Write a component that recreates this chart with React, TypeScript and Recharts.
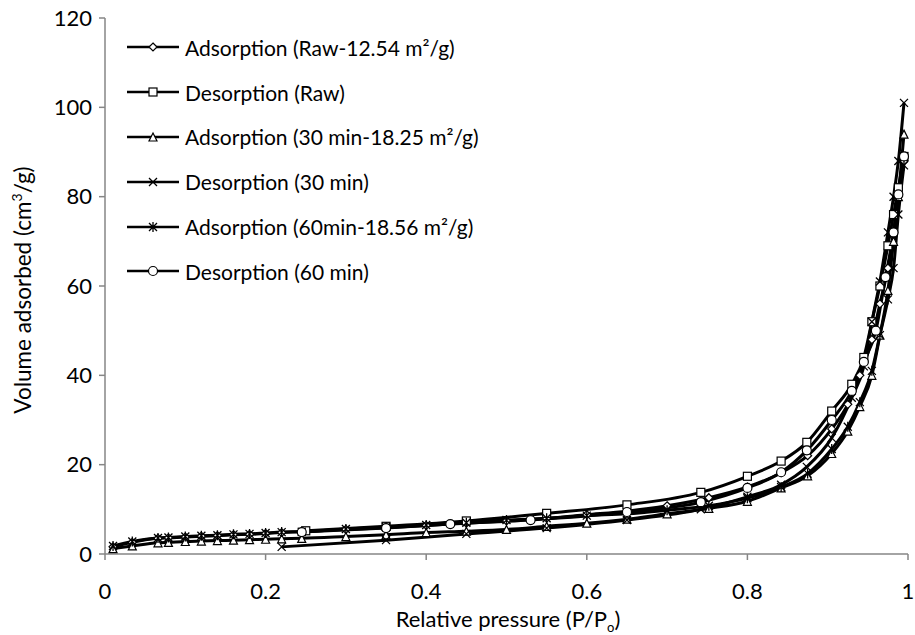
import { LineChart, Line, XAxis, YAxis } from 'recharts'

const FONT = 'Lato, "Open Sans", sans-serif'

// relative pressure points (P/Po)
const adsP = [0.01, 0.034, 0.066, 0.079, 0.1, 0.12, 0.14, 0.16, 0.18, 0.2, 0.22, 0.245, 0.3, 0.35, 0.4, 0.45, 0.5, 0.55, 0.6, 0.65, 0.7, 0.752, 0.8, 0.842, 0.875, 0.905, 0.925, 0.94, 0.955, 0.965, 0.975, 0.982, 0.988, 0.995]
const rawAdsV = [1.6, 2.6, 3.5, 3.6, 3.8, 4.0, 4.1, 4.3, 4.4, 4.6, 4.8, 5.0, 5.5, 5.9, 6.4, 6.9, 7.4, 8.0, 8.8, 9.6, 10.8, 12.6, 15.0, 18.2, 22.0, 28, 33.5, 40, 48, 56, 64, 72, 80, 88]
const ads30V = [1.2, 1.8, 2.5, 2.6, 2.8, 2.9, 3.0, 3.1, 3.2, 3.3, 3.4, 3.5, 3.9, 4.3, 4.8, 5.1, 5.5, 6.2, 6.9, 7.8, 9.0, 10.2, 11.8, 14.8, 17.5, 22.5, 27.5, 33, 40, 49, 59, 70, 80, 94]
const ads60V = [1.8, 2.8, 3.6, 3.7, 3.9, 4.1, 4.2, 4.4, 4.5, 4.7, 4.9, 5.0, 5.6, 6.0, 6.5, 7.0, 7.6, 8.0, 8.6, 9.0, 9.8, 10.8, 12.5, 15.0, 18.0, 23.5, 28.5, 34, 41, 49, 57, 64, 76, 87]

const rawDesP = [0.25, 0.35, 0.45, 0.55, 0.65, 0.742, 0.8, 0.842, 0.874, 0.905, 0.93, 0.945, 0.955, 0.965, 0.975, 0.982, 0.988, 0.995]
const rawDesV = [5.2, 6.2, 7.4, 9.1, 11.0, 13.8, 17.4, 20.8, 25.0, 32, 38, 44, 52, 60, 69, 76, 82, 89]

const des30P = [0.22, 0.35, 0.45, 0.55, 0.65, 0.742, 0.8, 0.842, 0.874, 0.905, 0.93, 0.945, 0.955, 0.965, 0.975, 0.982, 0.988, 0.995]
const des30V = [1.6, 3.1, 4.5, 5.8, 7.6, 10.0, 12.8, 15.5, 19.5, 26, 35, 42, 52, 61, 72, 80, 88, 101]

const des60P = [0.245, 0.35, 0.43, 0.53, 0.65, 0.742, 0.8, 0.842, 0.874, 0.905, 0.93, 0.945, 0.96, 0.972, 0.982, 0.988, 0.995]
const des60V = [4.9, 5.8, 6.7, 7.6, 9.4, 11.6, 14.8, 18.3, 23.2, 30, 36.5, 43, 50, 62, 72, 80.5, 89]

const xTicks = [0, 0.2, 0.4, 0.6, 0.8, 1]
const yTicks = [0, 20, 40, 60, 80, 100, 120]

const toPoints = (ps: number[], vs: number[]) => ps.map((p, i) => ({ p, v: vs[i] }))

type Shape = 'diamond' | 'square' | 'triangle' | 'x' | 'star' | 'circle'

const SERIES: { name: string; shape: Shape; data: { p: number; v: number }[] }[] = [
  { name: 'Adsorption (Raw-12.54 m²/g)', shape: 'diamond', data: toPoints(adsP, rawAdsV) },
  { name: 'Desorption (Raw)', shape: 'square', data: toPoints(rawDesP, rawDesV) },
  { name: 'Adsorption (30 min-18.25 m²/g)', shape: 'triangle', data: toPoints(adsP, ads30V) },
  { name: 'Desorption (30 min)', shape: 'x', data: toPoints(des30P, des30V) },
  { name: 'Adsorption (60min-18.56 m²/g)', shape: 'star', data: toPoints(adsP, ads60V) },
  { name: 'Desorption (60 min)', shape: 'circle', data: toPoints(des60P, des60V) },
]

function Marker({ shape, cx, cy }: { shape: Shape; cx: number; cy: number }) {
  const s = 4
  const common = { fill: '#fff', stroke: '#000', strokeWidth: 1.2 }
  switch (shape) {
    case 'diamond':
      return <polygon points={`${cx},${cy - s} ${cx + s},${cy} ${cx},${cy + s} ${cx - s},${cy}`} {...common} />
    case 'square':
      return <rect x={cx - s} y={cy - s} width={2 * s} height={2 * s} {...common} />
    case 'triangle':
      return <polygon points={`${cx},${cy - s} ${cx + s},${cy + s} ${cx - s},${cy + s}`} {...common} />
    case 'x':
      return <path d={`M${cx - s},${cy - s}L${cx + s},${cy + s}M${cx - s},${cy + s}L${cx + s},${cy - s}`} stroke="#000" strokeWidth={1.3} fill="none" />
    case 'star':
      return (
        <path
          d={`M${cx - s},${cy - s}L${cx + s},${cy + s}M${cx - s},${cy + s}L${cx + s},${cy - s}M${cx},${cy - s - 1}L${cx},${cy + s + 1}`}
          stroke="#000" strokeWidth={1.3} fill="none"
        />
      )
    default:
      return <circle cx={cx} cy={cy} r={s + 0.5} {...common} />
  }
}

function LegendBox() {
  return (
    <div style={{ position: 'absolute', left: 127, top: 25, fontSize: 21, color: '#000' }}>
      {SERIES.map((s) => (
        <div key={s.name} style={{ display: 'flex', alignItems: 'center', height: 44.8 }}>
          <svg width={52} height={14} style={{ marginRight: 6 }}>
            <line x1={0} y1={7} x2={52} y2={7} stroke="#000" strokeWidth={2.5} />
            <Marker shape={s.shape} cx={26} cy={7} />
          </svg>
          <span>{s.name}</span>
        </div>
      ))}
    </div>
  )
}

export default function App() {
  return (
    <div style={{ position: 'absolute', left: 0, top: 0, width: 915, height: 635, fontFamily: FONT }}>
      <LineChart width={915} height={635} margin={{ top: 18, right: 7, bottom: 41, left: 50 }}>
        <XAxis
          dataKey="p"
          type="number"
          domain={[0, 1]}
          ticks={xTicks}
          height={40}
          tickSize={6}
          tickMargin={23}
          stroke="#868686"
          strokeWidth={1.5}
          tick={{ fill: '#000', fontSize: 22, fontFamily: FONT }}
          allowDuplicatedCategory={false}
        />
        <XAxis xAxisId="top" orientation="top" type="number" domain={[0, 1]} height={0} tick={false} tickLine={false} stroke="#595959" strokeWidth={1.5} />
        <YAxis
          type="number"
          domain={[0, 120]}
          ticks={yTicks}
          width={55}
          tickSize={6}
          tickMargin={7}
          stroke="#868686"
          strokeWidth={1.5}
          tick={{ fill: '#000', fontSize: 22, fontFamily: FONT }}
        />
        <YAxis yAxisId="right" orientation="right" domain={[0, 120]} width={0} tick={false} tickLine={false} stroke="#595959" strokeWidth={1.5} />
        {SERIES.map((s) => (
          <Line
            key={s.name}
            data={s.data}
            dataKey="v"
            name={s.name}
            type="monotone"
            stroke="#000"
            strokeWidth={3}
            isAnimationActive={false}
            dot={(props: any) => <Marker key={`${s.shape}-${props.index}`} shape={s.shape} cx={props.cx} cy={props.cy} />}
            activeDot={false}
          />
        ))}
      </LineChart>
      <LegendBox />
      <div
        style={{
          position: 'absolute', left: 22, top: 290, transform: 'translate(-50%, -50%) rotate(-90deg)',
          whiteSpace: 'nowrap', fontSize: 22.5,
        }}
      >
        Volume adsorbed (cm<sup style={{ fontSize: 14 }}>3</sup>/g)
      </div>
      <div
        style={{
          position: 'absolute', left: 508, top: 620, transform: 'translate(-50%, -50%)',
          whiteSpace: 'nowrap', fontSize: 22,
        }}
      >
        Relative pressure (P/P<sub style={{ fontSize: 13 }}>o</sub>)
      </div>
    </div>
  )
}
